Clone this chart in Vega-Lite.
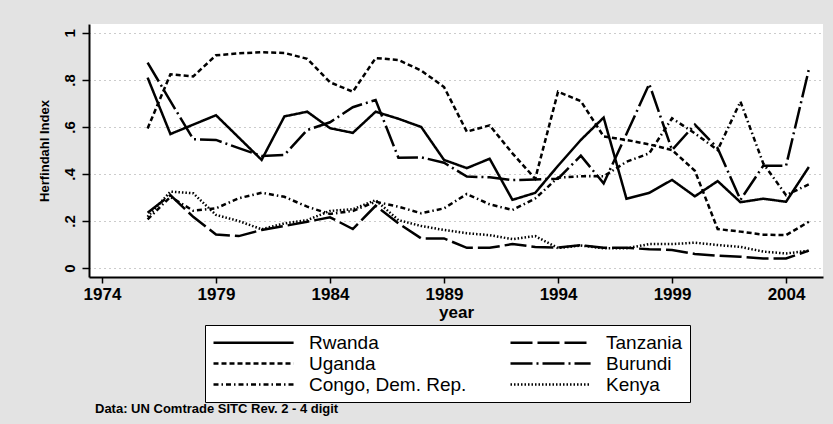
{
  "$schema": "https://vega.github.io/schema/vega-lite/v6.json",
  "width": 734,
  "height": 253,
  "autosize": {"type": "none"},
  "padding": {"left": 89, "top": 24, "right": 10, "bottom": 147},
  "background": "#e3e3e3",
  "view": {"fill": "white", "stroke": null},
  "config": {"font": "Liberation Sans"},
  "title": {
    "text": "Data: UN Comtrade SITC Rev. 2 - 4 digit",
    "orient": "bottom",
    "anchor": "start",
    "fontSize": 13,
    "fontWeight": "bold",
    "color": "black",
    "dx": 57,
    "offset": 0
  },
  "data": {
    "values": [
      {"year": 1976, "country": "Rwanda", "h": 0.81},
      {"year": 1977, "country": "Rwanda", "h": 0.57},
      {"year": 1978, "country": "Rwanda", "h": 0.61},
      {"year": 1979, "country": "Rwanda", "h": 0.65},
      {"year": 1980, "country": "Rwanda", "h": 0.555},
      {"year": 1981, "country": "Rwanda", "h": 0.46},
      {"year": 1982, "country": "Rwanda", "h": 0.645},
      {"year": 1983, "country": "Rwanda", "h": 0.665},
      {"year": 1984, "country": "Rwanda", "h": 0.595},
      {"year": 1985, "country": "Rwanda", "h": 0.575},
      {"year": 1986, "country": "Rwanda", "h": 0.665},
      {"year": 1987, "country": "Rwanda", "h": 0.635},
      {"year": 1988, "country": "Rwanda", "h": 0.6},
      {"year": 1989, "country": "Rwanda", "h": 0.46},
      {"year": 1990, "country": "Rwanda", "h": 0.425},
      {"year": 1991, "country": "Rwanda", "h": 0.465},
      {"year": 1992, "country": "Rwanda", "h": 0.29},
      {"year": 1993, "country": "Rwanda", "h": 0.32},
      {"year": 1994, "country": "Rwanda", "h": 0.435},
      {"year": 1995, "country": "Rwanda", "h": 0.545},
      {"year": 1996, "country": "Rwanda", "h": 0.64},
      {"year": 1997, "country": "Rwanda", "h": 0.295},
      {"year": 1998, "country": "Rwanda", "h": 0.32},
      {"year": 1999, "country": "Rwanda", "h": 0.375},
      {"year": 2000, "country": "Rwanda", "h": 0.305},
      {"year": 2001, "country": "Rwanda", "h": 0.37},
      {"year": 2002, "country": "Rwanda", "h": 0.28},
      {"year": 2003, "country": "Rwanda", "h": 0.295},
      {"year": 2004, "country": "Rwanda", "h": 0.282},
      {"year": 2005, "country": "Rwanda", "h": 0.43},

      {"year": 1976, "country": "Uganda", "h": 0.594},
      {"year": 1977, "country": "Uganda", "h": 0.824},
      {"year": 1978, "country": "Uganda", "h": 0.815},
      {"year": 1979, "country": "Uganda", "h": 0.905},
      {"year": 1980, "country": "Uganda", "h": 0.913},
      {"year": 1981, "country": "Uganda", "h": 0.918},
      {"year": 1982, "country": "Uganda", "h": 0.915},
      {"year": 1983, "country": "Uganda", "h": 0.89},
      {"year": 1984, "country": "Uganda", "h": 0.79},
      {"year": 1985, "country": "Uganda", "h": 0.75},
      {"year": 1986, "country": "Uganda", "h": 0.893},
      {"year": 1987, "country": "Uganda", "h": 0.885},
      {"year": 1988, "country": "Uganda", "h": 0.84},
      {"year": 1989, "country": "Uganda", "h": 0.77},
      {"year": 1990, "country": "Uganda", "h": 0.58},
      {"year": 1991, "country": "Uganda", "h": 0.607},
      {"year": 1992, "country": "Uganda", "h": 0.488},
      {"year": 1993, "country": "Uganda", "h": 0.38},
      {"year": 1994, "country": "Uganda", "h": 0.75},
      {"year": 1995, "country": "Uganda", "h": 0.71},
      {"year": 1996, "country": "Uganda", "h": 0.56},
      {"year": 1997, "country": "Uganda", "h": 0.545},
      {"year": 1998, "country": "Uganda", "h": 0.526},
      {"year": 1999, "country": "Uganda", "h": 0.502},
      {"year": 2000, "country": "Uganda", "h": 0.414},
      {"year": 2001, "country": "Uganda", "h": 0.166},
      {"year": 2002, "country": "Uganda", "h": 0.155},
      {"year": 2003, "country": "Uganda", "h": 0.142},
      {"year": 2004, "country": "Uganda", "h": 0.14},
      {"year": 2005, "country": "Uganda", "h": 0.197},

      {"year": 1976, "country": "Congo, Dem. Rep.", "h": 0.207},
      {"year": 1977, "country": "Congo, Dem. Rep.", "h": 0.303},
      {"year": 1978, "country": "Congo, Dem. Rep.", "h": 0.244},
      {"year": 1979, "country": "Congo, Dem. Rep.", "h": 0.254},
      {"year": 1980, "country": "Congo, Dem. Rep.", "h": 0.297},
      {"year": 1981, "country": "Congo, Dem. Rep.", "h": 0.32},
      {"year": 1982, "country": "Congo, Dem. Rep.", "h": 0.303},
      {"year": 1983, "country": "Congo, Dem. Rep.", "h": 0.261},
      {"year": 1984, "country": "Congo, Dem. Rep.", "h": 0.23},
      {"year": 1985, "country": "Congo, Dem. Rep.", "h": 0.243},
      {"year": 1986, "country": "Congo, Dem. Rep.", "h": 0.282},
      {"year": 1987, "country": "Congo, Dem. Rep.", "h": 0.261},
      {"year": 1988, "country": "Congo, Dem. Rep.", "h": 0.233},
      {"year": 1989, "country": "Congo, Dem. Rep.", "h": 0.254},
      {"year": 1990, "country": "Congo, Dem. Rep.", "h": 0.315},
      {"year": 1991, "country": "Congo, Dem. Rep.", "h": 0.271},
      {"year": 1992, "country": "Congo, Dem. Rep.", "h": 0.247},
      {"year": 1993, "country": "Congo, Dem. Rep.", "h": 0.296},
      {"year": 1994, "country": "Congo, Dem. Rep.", "h": 0.385},
      {"year": 1995, "country": "Congo, Dem. Rep.", "h": 0.39},
      {"year": 1996, "country": "Congo, Dem. Rep.", "h": 0.39},
      {"year": 1997, "country": "Congo, Dem. Rep.", "h": 0.452},
      {"year": 1998, "country": "Congo, Dem. Rep.", "h": 0.488},
      {"year": 1999, "country": "Congo, Dem. Rep.", "h": 0.637},
      {"year": 2000, "country": "Congo, Dem. Rep.", "h": 0.573},
      {"year": 2001, "country": "Congo, Dem. Rep.", "h": 0.502},
      {"year": 2002, "country": "Congo, Dem. Rep.", "h": 0.708},
      {"year": 2003, "country": "Congo, Dem. Rep.", "h": 0.445},
      {"year": 2004, "country": "Congo, Dem. Rep.", "h": 0.31},
      {"year": 2005, "country": "Congo, Dem. Rep.", "h": 0.356},

      {"year": 1976, "country": "Tanzania", "h": 0.235},
      {"year": 1977, "country": "Tanzania", "h": 0.31},
      {"year": 1978, "country": "Tanzania", "h": 0.218},
      {"year": 1979, "country": "Tanzania", "h": 0.143},
      {"year": 1980, "country": "Tanzania", "h": 0.136},
      {"year": 1981, "country": "Tanzania", "h": 0.162},
      {"year": 1982, "country": "Tanzania", "h": 0.179},
      {"year": 1983, "country": "Tanzania", "h": 0.197},
      {"year": 1984, "country": "Tanzania", "h": 0.216},
      {"year": 1985, "country": "Tanzania", "h": 0.166},
      {"year": 1986, "country": "Tanzania", "h": 0.265},
      {"year": 1987, "country": "Tanzania", "h": 0.19},
      {"year": 1988, "country": "Tanzania", "h": 0.126},
      {"year": 1989, "country": "Tanzania", "h": 0.126},
      {"year": 1990, "country": "Tanzania", "h": 0.086},
      {"year": 1991, "country": "Tanzania", "h": 0.086},
      {"year": 1992, "country": "Tanzania", "h": 0.102},
      {"year": 1993, "country": "Tanzania", "h": 0.09},
      {"year": 1994, "country": "Tanzania", "h": 0.087},
      {"year": 1995, "country": "Tanzania", "h": 0.097},
      {"year": 1996, "country": "Tanzania", "h": 0.086},
      {"year": 1997, "country": "Tanzania", "h": 0.086},
      {"year": 1998, "country": "Tanzania", "h": 0.08},
      {"year": 1999, "country": "Tanzania", "h": 0.077},
      {"year": 2000, "country": "Tanzania", "h": 0.06},
      {"year": 2001, "country": "Tanzania", "h": 0.053},
      {"year": 2002, "country": "Tanzania", "h": 0.048},
      {"year": 2003, "country": "Tanzania", "h": 0.041},
      {"year": 2004, "country": "Tanzania", "h": 0.041},
      {"year": 2005, "country": "Tanzania", "h": 0.074},

      {"year": 1976, "country": "Burundi", "h": 0.874},
      {"year": 1977, "country": "Burundi", "h": 0.71},
      {"year": 1978, "country": "Burundi", "h": 0.548},
      {"year": 1979, "country": "Burundi", "h": 0.545},
      {"year": 1980, "country": "Burundi", "h": 0.51},
      {"year": 1981, "country": "Burundi", "h": 0.477},
      {"year": 1982, "country": "Burundi", "h": 0.481},
      {"year": 1983, "country": "Burundi", "h": 0.587},
      {"year": 1984, "country": "Burundi", "h": 0.62},
      {"year": 1985, "country": "Burundi", "h": 0.684},
      {"year": 1986, "country": "Burundi", "h": 0.715},
      {"year": 1987, "country": "Burundi", "h": 0.469},
      {"year": 1988, "country": "Burundi", "h": 0.471},
      {"year": 1989, "country": "Burundi", "h": 0.448},
      {"year": 1990, "country": "Burundi", "h": 0.389},
      {"year": 1991, "country": "Burundi", "h": 0.386},
      {"year": 1992, "country": "Burundi", "h": 0.374},
      {"year": 1993, "country": "Burundi", "h": 0.377},
      {"year": 1994, "country": "Burundi", "h": 0.38},
      {"year": 1995, "country": "Burundi", "h": 0.478},
      {"year": 1996, "country": "Burundi", "h": 0.36},
      {"year": 1997, "country": "Burundi", "h": 0.57},
      {"year": 1998, "country": "Burundi", "h": 0.783},
      {"year": 1999, "country": "Burundi", "h": 0.502},
      {"year": 2000, "country": "Burundi", "h": 0.61},
      {"year": 2001, "country": "Burundi", "h": 0.51},
      {"year": 2002, "country": "Burundi", "h": 0.29},
      {"year": 2003, "country": "Burundi", "h": 0.435},
      {"year": 2004, "country": "Burundi", "h": 0.435},
      {"year": 2005, "country": "Burundi", "h": 0.845},

      {"year": 1976, "country": "Kenya", "h": 0.218},
      {"year": 1977, "country": "Kenya", "h": 0.325},
      {"year": 1978, "country": "Kenya", "h": 0.318},
      {"year": 1979, "country": "Kenya", "h": 0.226},
      {"year": 1980, "country": "Kenya", "h": 0.2},
      {"year": 1981, "country": "Kenya", "h": 0.165},
      {"year": 1982, "country": "Kenya", "h": 0.19},
      {"year": 1983, "country": "Kenya", "h": 0.204},
      {"year": 1984, "country": "Kenya", "h": 0.243},
      {"year": 1985, "country": "Kenya", "h": 0.25},
      {"year": 1986, "country": "Kenya", "h": 0.289},
      {"year": 1987, "country": "Kenya", "h": 0.204},
      {"year": 1988, "country": "Kenya", "h": 0.179},
      {"year": 1989, "country": "Kenya", "h": 0.162},
      {"year": 1990, "country": "Kenya", "h": 0.148},
      {"year": 1991, "country": "Kenya", "h": 0.14},
      {"year": 1992, "country": "Kenya", "h": 0.123},
      {"year": 1993, "country": "Kenya", "h": 0.136},
      {"year": 1994, "country": "Kenya", "h": 0.085},
      {"year": 1995, "country": "Kenya", "h": 0.096},
      {"year": 1996, "country": "Kenya", "h": 0.084},
      {"year": 1997, "country": "Kenya", "h": 0.084},
      {"year": 1998, "country": "Kenya", "h": 0.102},
      {"year": 1999, "country": "Kenya", "h": 0.102},
      {"year": 2000, "country": "Kenya", "h": 0.108},
      {"year": 2001, "country": "Kenya", "h": 0.098},
      {"year": 2002, "country": "Kenya", "h": 0.09},
      {"year": 2003, "country": "Kenya", "h": 0.07},
      {"year": 2004, "country": "Kenya", "h": 0.062},
      {"year": 2005, "country": "Kenya", "h": 0.074}
    ]
  },
  "mark": {"type": "line", "color": "black", "strokeCap": "butt", "strokeJoin": "miter"},
  "encoding": {
    "x": {
      "field": "year",
      "type": "quantitative",
      "scale": {"domain": [1973.43, 2005.62], "nice": false, "zero": false},
      "axis": {
        "values": [1974, 1979, 1984, 1989, 1994, 1999, 2004],
        "format": "d",
        "grid": false,
        "domainColor": "black",
        "domainWidth": 2,
        "tickColor": "black",
        "tickWidth": 1.5,
        "tickSize": 6,
        "labelFontSize": 17,
        "labelFontWeight": "bold",
        "labelColor": "black",
        "labelPadding": 3,
        "labelFlush": false,
        "title": "year",
        "titleFontSize": 17,
        "titleFontWeight": "bold",
        "titleColor": "black",
        "titlePadding": 2
      }
    },
    "y": {
      "field": "h",
      "type": "quantitative",
      "scale": {"domain": [-0.038, 1.038], "nice": false, "zero": false},
      "axis": {
        "values": [0, 0.2, 0.4, 0.6, 0.8, 1],
        "labelExpr": "datum.value < 0.05 ? '0' : datum.value > 0.95 ? '1' : substring(format(datum.value, '.1f'), 1)",
        "labelAngle": 270,
        "labelAlign": "center",
        "labelBaseline": "bottom",
        "labelFontSize": 15,
        "labelFontWeight": "bold",
        "labelColor": "black",
        "labelPadding": 5,
        "labelFlush": false,
        "domainColor": "black",
        "domainWidth": 2,
        "tickColor": "black",
        "tickWidth": 1.5,
        "tickSize": 7,
        "grid": true,
        "gridColor": "#999999",
        "gridDash": [1, 4],
        "gridWidth": 1,
        "title": "Herfindahl Index",
        "titleFontSize": 13,
        "titleFontWeight": "bold",
        "titleColor": "black",
        "titlePadding": 11
      }
    },
    "strokeDash": {
      "field": "country",
      "type": "nominal",
      "scale": {
        "domain": ["Rwanda", "Tanzania", "Uganda", "Burundi", "Congo, Dem. Rep.", "Kenya"],
        "range": [[1, 0], [22, 5], [5, 3], [22, 4, 2, 4], [5, 3, 1.5, 3], [1.5, 2]]
      },
      "legend": {
        "orient": "none",
        "legendX": 116,
        "legendY": 301,
        "direction": "horizontal",
        "columns": 2,
        "title": null,
        "symbolType": "M-1,0H7.9",
        "symbolSize": 324,
        "symbolStrokeColor": "black",
        "labelFontSize": 19,
        "labelColor": "black",
        "labelOffset": 76,
        "strokeColor": "black",
        "fillColor": "white",
        "padding": 7,
        "rowPadding": -2,
        "columnPadding": 38
      }
    },
    "strokeWidth": {
      "field": "country",
      "type": "nominal",
      "scale": {
        "domain": ["Rwanda", "Tanzania", "Uganda", "Burundi", "Congo, Dem. Rep.", "Kenya"],
        "range": [2.5, 2.5, 2, 2.5, 1.3, 2.2]
      }
    }
  }
}
